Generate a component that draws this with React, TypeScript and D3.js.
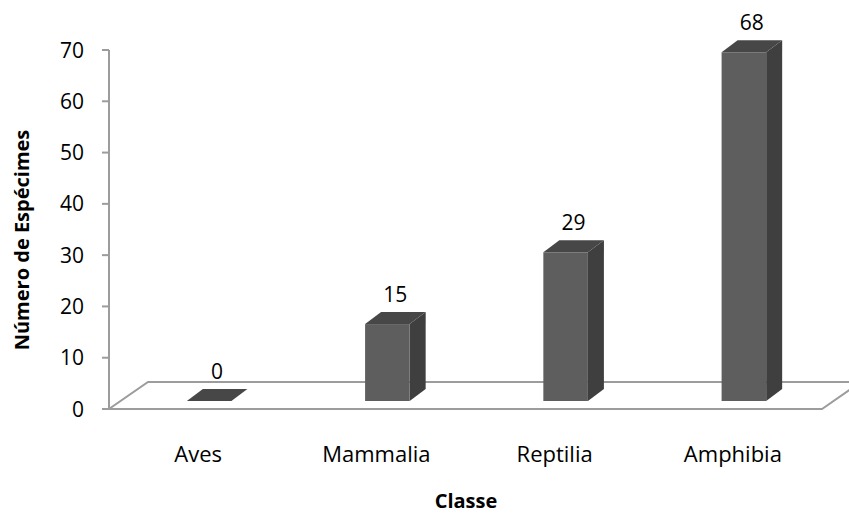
import * as d3 from "d3";
import { useRef, useEffect } from "react";

const categories = ["Aves", "Mammalia", "Reptilia", "Amphibia"];
const values = [0, 15, 29, 68];
const yTicks = [0, 10, 20, 30, 40, 50, 60, 70];

export default function App() {
    const ref = useRef<SVGSVGElement | null>(null);

    useEffect(() => {
        const svg = d3.select(ref.current);
        svg.selectAll("*").remove();

        const width = 849;
        const height = 515;
        svg.attr("width", width).attr("height", height);

        const font = "'Open Sans', 'Noto Sans', sans-serif";
        const axisColor = "#9c9c9c";

        const left = 109;
        const right = 822;
        const base = 409;
        // floor depth
        const fdx = 39;
        const fdy = -27;
        // bars sit part way back on the floor
        const bdx = 11;
        const bdy = -8;
        // bar depth
        const ddx = 16;
        const ddy = -12;

        const y = d3.scaleLinear().domain([0, 70]).range([base, 50]);

        const x = d3.scaleBand()
            .domain(categories)
            .range([left, right])
            .paddingInner(0.75)
            .paddingOuter(0.375);

        const g = svg.append("g");

        // floor
        g.append("path")
            .attr("d", `M${left},${base} L${right},${base} L${right + fdx},${base + fdy} L${left + fdx},${base + fdy} Z`)
            .attr("fill", "none")
            .attr("stroke", axisColor)
            .attr("stroke-width", 2);

        // y axis
        g.append("line")
            .attr("x1", left).attr("x2", left)
            .attr("y1", y(70)).attr("y2", base)
            .attr("stroke", axisColor)
            .attr("stroke-width", 2);

        g.selectAll(".tick")
            .data(yTicks)
            .enter()
            .append("line")
            .attr("x1", left - 7).attr("x2", left)
            .attr("y1", (d) => y(d)).attr("y2", (d) => y(d))
            .attr("stroke", axisColor)
            .attr("stroke-width", 2);

        g.selectAll(".ytl")
            .data(yTicks)
            .enter()
            .append("text")
            .attr("x", 84)
            .attr("y", (d) => y(d))
            .attr("dy", "0.36em")
            .attr("text-anchor", "end")
            .attr("font-family", font)
            .attr("font-size", 21)
            .attr("fill", "#000")
            .text((d) => d);

        // bars
        const yb = (v: number) => y(v) + bdy;
        const bars = g.selectAll(".bar")
            .data(values)
            .enter()
            .append("g");

        bars.each(function (v, i) {
            const bg = d3.select(this);
            const x0 = x(categories[i])! + bdx;
            const x1 = x0 + x.bandwidth();
            const b = base + bdy;
            const t = yb(v);
            // side
            bg.append("path")
                .attr("d", `M${x1},${b} L${x1 + ddx},${b + ddy} L${x1 + ddx},${t + ddy} L${x1},${t} Z`)
                .attr("fill", "#3f3f3f");
            // top
            bg.append("path")
                .attr("d", `M${x0},${t} L${x1},${t} L${x1 + ddx},${t + ddy} L${x0 + ddx},${t + ddy} Z`)
                .attr("fill", "#474747");
            // front
            if (v > 0) {
                bg.append("rect")
                    .attr("x", x0)
                    .attr("y", t)
                    .attr("width", x1 - x0)
                    .attr("height", b - t)
                    .attr("fill", "#5e5e5e");
            }
            bg.append("text")
                .attr("x", (x0 + x1) / 2 + ddx / 2)
                .attr("y", t + ddy - 10)
                .attr("text-anchor", "middle")
                .attr("font-family", font)
                .attr("font-size", 21)
                .attr("fill", "#000")
                .text(v);
        });

        // category labels
        g.selectAll(".xl")
            .data(categories)
            .enter()
            .append("text")
            .attr("x", (d) => x(d)! + x.bandwidth() / 2)
            .attr("y", 462)
            .attr("text-anchor", "middle")
            .attr("font-family", font)
            .attr("font-size", 22)
            .attr("fill", "#000")
            .text((d) => d);

        // axis titles
        g.append("text")
            .attr("x", 466)
            .attr("y", 508)
            .attr("text-anchor", "middle")
            .attr("font-family", font)
            .attr("font-size", 20)
            .attr("font-weight", "bold")
            .attr("fill", "#000")
            .text("Classe");

        g.append("text")
            .attr("transform", "translate(29,240) rotate(-90)")
            .attr("text-anchor", "middle")
            .attr("font-family", font)
            .attr("font-size", 20)
            .attr("font-weight", "bold")
            .attr("fill", "#000")
            .text("Número de Espécimes");
    }, []);

    return <svg ref={ref} style={{ position: "absolute", left: 0, top: 0 }}></svg>;
}
